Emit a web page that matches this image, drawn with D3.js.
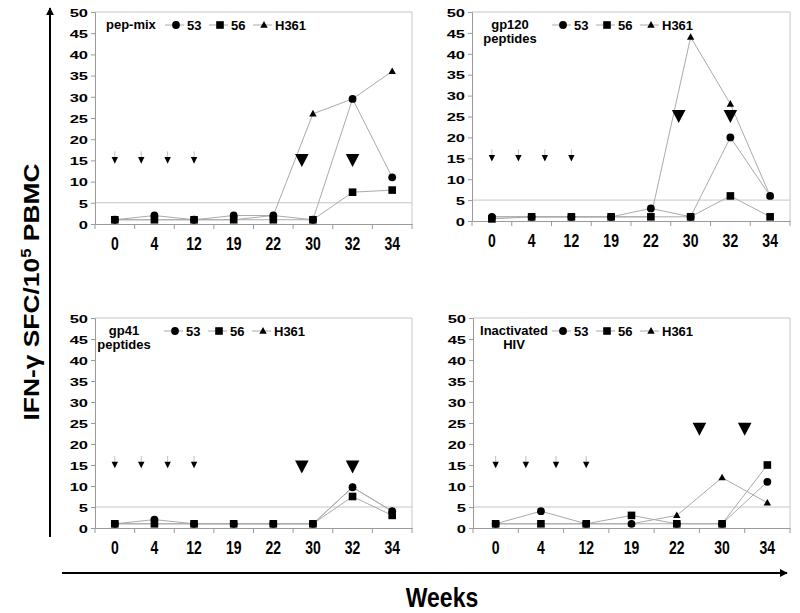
<!DOCTYPE html>
<html>
<head>
<meta charset="utf-8">
<script src="https://cdn.jsdelivr.net/npm/d3@7"></script>
<style>
  html, body { margin: 0; padding: 0; background: #fff; }
  svg { display: block; font-family: "Liberation Sans", Arial, sans-serif; font-weight: bold; }
</style>
</head>
<body>
<svg id="chart" width="800" height="613"></svg>
<script>
// ---------- DATA ----------
const weeks8 = ["0", "4", "12", "19", "22", "30", "32", "34"];
const weeks7 = ["0", "4", "12", "19", "22", "30", "34"];
const yTicks = [0, 5, 10, 15, 20, 25, 30, 35, 40, 45, 50];
const seriesNames = ["53", "56", "H361"];

// pep-mix
const pepMix53   = [1, 2, 1, 2, 2, 1, 29.5, 11];
const pepMix56   = [1, 1, 1, 1, 1, 1, 7.5, 8];
const pepMixH361 = [1, 1, 1, 1, 2, 26, 29.5, 36];
// gp120 peptides
const gp120_53   = [1, 1, 1, 1, 3, 1, 20, 6];
const gp120_56   = [0.5, 1, 1, 1, 1, 1, 6, 1];
const gp120_H361 = [1, 1, 1, 1, 1, 44, 28, 6];
// gp41 peptides
const gp41_53    = [1, 2, 1, 1, 1, 1, 9.7, 4];
const gp41_56    = [1, 1, 1, 1, 1, 1, 7.5, 3];
const gp41_H361  = [1, 1, 1, 1, 1, 1, 9.7, 4];
// Inactivated HIV
const hiv53      = [1, 4, 1, 1, 1, 1, 11];
const hiv56      = [1, 1, 1, 3, 1, 1, 15];
const hivH361    = [1, 1, 1, 1, 3, 12, 6];

// immunisation arrows: position in category-index units, and height (SFC value)
const smallArrowIdx = [0, 0.667, 1.333, 2];
const smallArrowVal = 15;
const pepMixBigIdx = [4.72, 6];  const pepMixBigVal = 15;
const gp120BigIdx  = [4.7, 6];   const gp120BigVal  = 25;
const gp41BigIdx   = [4.72, 6];  const gp41BigVal   = 14.5;
const hivBigIdx    = [4.5, 5.5]; const hivBigVal    = 23.5;

const panelTitles = [["pep-mix"], ["gp120", "peptides"], ["gp41", "peptides"], ["Inactivated", "HIV"]];

// ---------- LAYOUT ----------
const panels = [
  { cats: weeks8, s53: pepMix53, s56: pepMix56, sH: pepMixH361, big: pepMixBigIdx, bigVal: pepMixBigVal,
    title: panelTitles[0], box: { l: 95, r: 412, t: 12, b: 224 }, titlePos: { x: 106, anchor: "start" }, legX: 176 },
  { cats: weeks8, s53: gp120_53, s56: gp120_56, sH: gp120_H361, big: gp120BigIdx, bigVal: gp120BigVal,
    title: panelTitles[1], box: { l: 472, r: 790, t: 12, b: 221 }, titlePos: { x: 510, anchor: "middle" }, legX: 563 },
  { cats: weeks8, s53: gp41_53, s56: gp41_56, sH: gp41_H361, big: gp41BigIdx, bigVal: gp41BigVal,
    title: panelTitles[2], box: { l: 95, r: 412, t: 318, b: 528 }, titlePos: { x: 124, anchor: "middle" }, legX: 175 },
  { cats: weeks7, s53: hiv53, s56: hiv56, sH: hivH361, big: hivBigIdx, bigVal: hivBigVal,
    title: panelTitles[3], box: { l: 473, r: 790, t: 318, b: 528 }, titlePos: { x: 514, anchor: "middle" }, legX: 563 }
];

const svg = d3.select("#chart");
const lineColor = "#aaaaaa";
const frameColor = "#c6c6c6";
const axisColor = "#9a9a9a";

function marker(g, type, x, y) {
  if (type === "53") {
    g.append("circle").attr("cx", x).attr("cy", y).attr("r", 3.9).attr("fill", "#000");
  } else if (type === "56") {
    const s = 7.6;
    g.append("rect").attr("x", x - s / 2).attr("y", y - s / 2).attr("width", s).attr("height", s).attr("fill", "#000");
  } else {
    g.append("path").attr("d", `M${x},${y - 3.9}L${x + 3.7},${y + 2.7}L${x - 3.7},${y + 2.7}Z`).attr("fill", "#000");
  }
}

panels.forEach(p => {
  const g = svg.append("g");
  const x = d3.scaleBand().domain(p.cats).range([p.box.l, p.box.r]).padding(0);
  const y = d3.scaleLinear().domain([0, 50]).range([p.box.b, p.box.t]);
  const cx = c => x(c) + x.bandwidth() / 2;
  const xi = d3.scaleLinear().domain([0, p.cats.length - 1]).range([cx(p.cats[0]), cx(p.cats[p.cats.length - 1])]);

  // frame (top + right)
  g.append("path")
    .attr("d", `M${p.box.l},${p.box.t}H${p.box.r}V${p.box.b}`)
    .attr("fill", "none").attr("stroke", frameColor).attr("stroke-width", 1);

  // reference line at 5
  g.append("line").attr("x1", p.box.l).attr("x2", p.box.r).attr("y1", y(5)).attr("y2", y(5))
    .attr("stroke", frameColor).attr("stroke-width", 1);

  // y axis
  const ya = g.append("g").attr("transform", `translate(${p.box.l},0)`)
    .call(d3.axisLeft(y).tickValues(yTicks).tickSize(4).tickPadding(4));
  ya.select(".domain").attr("stroke", axisColor);
  ya.selectAll(".tick line").attr("stroke", axisColor);
  ya.selectAll("text").attr("font-size", 15).attr("font-weight", "bold").attr("fill", "#000")
    .attr("font-family", "Liberation Sans, Arial, sans-serif")
    .attr("x", 0).attr("dy", null).attr("text-anchor", "end")
    .attr("transform", "translate(-7,4.2) scale(1.1,0.78)");

  // x axis
  const xa = g.append("g").attr("transform", `translate(0,${p.box.b})`)
    .call(d3.axisBottom(x).tickSize(0).tickPadding(0));
  xa.select(".domain").attr("stroke", axisColor);
  xa.selectAll("text").attr("font-size", 14).attr("font-weight", "bold").attr("fill", "#000")
    .attr("font-family", "Liberation Sans, Arial, sans-serif")
    .attr("y", 0).attr("dy", null)
    .attr("transform", "translate(0,26) scale(1,1.33)");
  // boundary ticks
  const bounds = p.cats.map(c => x(c)).concat([p.box.r]);
  g.selectAll(null).data(bounds).enter().append("line")
    .attr("x1", d => d).attr("x2", d => d).attr("y1", p.box.b).attr("y2", p.box.b + 5)
    .attr("stroke", axisColor);

  // series lines
  const series = [
    { name: "H361", vals: p.sH },
    { name: "56", vals: p.s56 },
    { name: "53", vals: p.s53 }
  ];
  const lineGen = d3.line().x((d, i) => cx(p.cats[i])).y(d => y(d));
  series.forEach(s => {
    g.append("path").attr("d", lineGen(s.vals)).attr("fill", "none")
      .attr("stroke", lineColor).attr("stroke-width", 1);
  });
  series.forEach(s => {
    s.vals.forEach((v, i) => marker(g, s.name, cx(p.cats[i]), y(v)));
  });

  // small arrows
  smallArrowIdx.forEach(ix => {
    const ax = xi(ix), ay = y(smallArrowVal);
    g.append("line").attr("x1", ax).attr("x2", ax).attr("y1", ay - 9).attr("y2", ay - 2)
      .attr("stroke", "#c0c0c0").attr("stroke-width", 1);
    g.append("path").attr("d", `M${ax - 3.2},${ay - 3.3}L${ax + 3.2},${ay - 3.3}L${ax},${ay + 3.3}Z`).attr("fill", "#000");
  });
  // big arrows
  p.big.forEach(ix => {
    const ax = xi(ix), ay = y(p.bigVal);
    g.append("path").attr("d", `M${ax - 6.8},${ay - 6.5}L${ax + 6.8},${ay - 6.5}L${ax},${ay + 6.5}Z`).attr("fill", "#000");
  });

  // title
  const tt = g.append("text").attr("x", p.titlePos.x).attr("y", p.box.t + 17)
    .attr("text-anchor", p.titlePos.anchor).attr("font-size", 13).attr("fill", "#000");
  p.title.forEach((t, i) => tt.append("tspan").attr("x", p.titlePos.x).attr("dy", i === 0 ? 0 : 13.5).text(t));

  // legend
  const ly = p.box.t + 13;
  seriesNames.forEach((n, i) => {
    const mx = p.legX + i * 44;
    g.append("line").attr("x1", mx - 11).attr("x2", mx + 8).attr("y1", ly).attr("y2", ly)
      .attr("stroke", lineColor).attr("stroke-width", 1);
    marker(g, n, mx, ly);
    g.append("text").attr("x", mx + 11).attr("y", ly + 4.6).attr("font-size", 13).attr("fill", "#000").text(n);
  });
});

// global axes arrows
const defs = svg.append("defs");
defs.append("marker").attr("id", "ah").attr("viewBox", "0 0 10 10").attr("refX", 9).attr("refY", 5)
  .attr("markerWidth", 4).attr("markerHeight", 4).attr("orient", "auto")
  .append("path").attr("d", "M0,0L10,5L0,10Z").attr("fill", "#000");
svg.append("line").attr("x1", 50).attr("x2", 50).attr("y1", 537).attr("y2", 8)
  .attr("stroke", "#000").attr("stroke-width", 2).attr("marker-end", "url(#ah)");
svg.append("line").attr("x1", 62).attr("x2", 787).attr("y1", 573).attr("y2", 573)
  .attr("stroke", "#000").attr("stroke-width", 2).attr("marker-end", "url(#ah)");

svg.append("text").attr("transform", "translate(442,607) scale(1,1.2)").attr("text-anchor", "middle")
  .attr("font-size", 23).attr("fill", "#000").text("Weeks");

const yl = svg.append("text").attr("transform", "translate(39,292) rotate(-90) scale(1.2,1)")
  .attr("text-anchor", "middle").attr("font-size", 22).attr("fill", "#000");
yl.append("tspan").text("IFN-γ SFC/10");
yl.append("tspan").attr("dy", -8).attr("font-size", 14).text("5");
yl.append("tspan").attr("dy", 8).text(" PBMC");
</script>
</body>
</html>
